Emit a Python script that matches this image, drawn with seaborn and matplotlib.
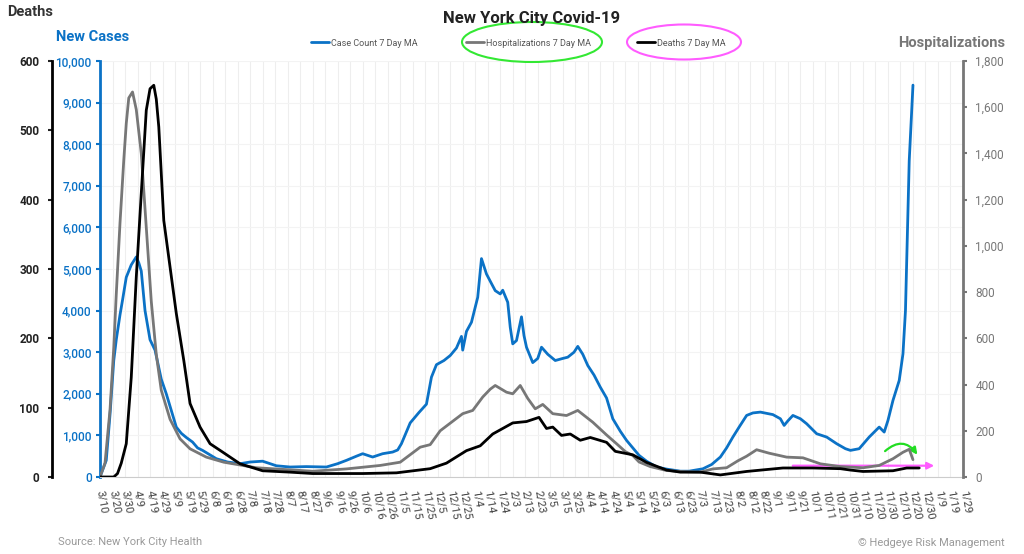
import pandas as pd
import matplotlib.pyplot as plt
import matplotlib.ticker as mticker
from matplotlib.lines import Line2D
from matplotlib.patches import Ellipse
import seaborn as sns

sns.set_style("white")
plt.rcParams["font.family"] = ["Roboto", "DejaVu Sans"]

START = pd.Timestamp("2020-03-10")
END = pd.Timestamp("2022-01-29")

# days since 3/10/2020 -> 7 day moving averages
case_days = [0, 5, 8, 11, 13, 16, 18, 21, 25, 29, 31, 33, 36, 40, 44, 49, 53, 56, 61, 65,
             69, 74, 78, 82, 93, 102, 112, 120, 130, 141, 152, 165, 181, 190, 197, 205, 210,
             218, 226, 234, 238, 241, 248, 255, 261, 265, 269, 275, 280, 285, 289, 290, 293,
             297, 302, 305, 309, 313, 316, 320, 322, 326, 328, 330, 333, 337, 339, 341, 346,
             350, 353, 358, 364, 370, 374, 379, 382, 386, 390, 395, 400, 405, 410, 416, 421,
             426, 431, 437, 445, 453, 464, 471, 482, 489, 496, 501, 506, 511, 517, 522, 528,
             533, 538, 544, 547, 550, 554, 560, 565, 573, 581, 589, 596, 600, 607, 615, 623,
             627, 630, 634, 639, 642, 644, 645, 647, 650]
cases = [0, 400, 1500, 2800, 3300, 3900, 4250, 4800, 5100, 5290, 5150, 4950, 4000, 3300, 3050,
         2350, 2000, 1700, 1200, 1050, 950, 840, 700, 640, 440, 360, 320, 360, 380, 270, 240,
         250, 240, 320, 400, 500, 560, 480, 560, 600, 650, 800, 1300, 1550, 1750, 2400, 2700,
         2800, 2920, 3100, 3380, 3050, 3500, 3720, 4320, 5250, 4880, 4650, 4480, 4400, 4490,
         4200, 3600, 3200, 3280, 3850, 3400, 3120, 2750, 2850, 3120, 2950, 2800, 2850, 2880,
         3000, 3140, 2950, 2680, 2450, 2160, 1900, 1400, 1100, 880, 700, 520, 380, 240, 190,
         140, 140, 197, 300, 480, 700, 960, 1200, 1480, 1540, 1560, 1530, 1500, 1400, 1240,
         1350, 1480, 1400, 1280, 1040, 960, 800, 680, 640, 680, 960, 1200, 1080, 1360, 1840,
         2320, 2960, 4000, 5200, 7600, 9420]

hosp_days = [0, 4, 8, 11, 13, 16, 19, 21, 23, 26, 29, 33, 37, 41, 45, 49, 56, 64, 72, 85, 99,
             125, 152, 170, 197, 224, 240, 256, 264, 272, 281, 290, 298, 306, 312, 316, 325,
             330, 336, 342, 348, 354, 362, 373, 382, 394, 405, 413, 420, 426, 431, 440, 453,
             464, 480, 490, 501, 510, 517, 525, 535, 549, 562, 576, 592, 610, 623, 634, 642,
             647, 650]
hosp = [0, 60, 290, 560, 790, 1100, 1370, 1530, 1640, 1666, 1590, 1400, 1080, 760, 530, 375,
        250, 165, 122, 86, 64, 40, 31, 25, 35, 50, 64, 129, 140, 200, 237, 274, 288, 346, 380,
        396, 367, 360, 396, 340, 295, 314, 274, 266, 288, 237, 182, 144, 110, 93, 65, 45, 28,
        24, 21, 35, 40, 70, 90, 118, 103, 86, 83, 57, 45, 40, 50, 79, 107, 120, 75]

death_days = [0, 11, 14, 17, 21, 25, 29, 33, 37, 40, 43, 45, 47, 51, 56, 61, 67, 72, 80, 88, 98,
              112, 130, 152, 170, 210, 237, 264, 277, 293, 304, 314, 322, 330, 341, 351, 357,
              362, 369, 376, 384, 392, 405, 412, 426, 437, 453, 464, 480, 496, 517, 546, 570,
              592, 600, 610, 634, 645, 655]
deaths = [0, 0, 5, 20, 48, 144, 288, 409, 529, 560, 565, 545, 505, 370, 303, 236, 168, 106, 72,
          48, 36, 19, 9, 7, 5, 5, 6, 12, 20, 38, 45, 62, 70, 78, 80, 86, 70, 72, 60, 62, 53, 57,
          50, 37, 32, 21, 10, 7, 7, 3, 8, 13, 13, 12, 10, 8, 9, 13, 13]

BLUE = "#0b72c6"
GRAY = "#777777"
BLACK = "#000000"


def to_dates(days):
    return START + pd.to_timedelta(days, unit="D")


W, H = 1024, 554
fig = plt.figure(figsize=(W / 100, H / 100), dpi=100)
ax = fig.add_axes([100 / W, 1 - 477 / H, 863 / W, 416 / H])
ax_h = ax.twinx()
ax_d = ax.twinx()

sns.lineplot(x=to_dates(case_days), y=cases, ax=ax, color=BLUE, linewidth=2)
sns.lineplot(x=to_dates(hosp_days), y=hosp, ax=ax_h, color=GRAY, linewidth=2)
sns.lineplot(x=to_dates(death_days), y=deaths, ax=ax_d, color=BLACK, linewidth=2)

# x axis: every 10 days
ticks = pd.date_range(START, END, freq="10D")
ax.set_xlim(START, END)
ax.set_xticks(ticks)
ax.set_xticklabels([f"{t.month}/{t.day}" for t in ticks], rotation=-80, ha="left", va="center",
                   rotation_mode="anchor", fontsize=8, color="#444444")
ax.tick_params(axis="x", length=4, color="#bbbbbb", pad=6)
ax.grid(axis="x", color="#eeeeee", linewidth=0.8)
ax.grid(axis="y", color="#f3f3f3", linewidth=0.8)

# cases axis (inner left)
ax.set_ylim(0, 10000)
ax.set_yticks(range(0, 10001, 1000))
ax.yaxis.set_major_formatter(mticker.StrMethodFormatter("{x:,.0f}"))
ax.tick_params(axis="y", colors=BLUE, labelsize=8.5, length=3, width=1.5, pad=3)
for lbl in ax.get_yticklabels():
    lbl.set_fontweight("medium")
ax.spines["left"].set_color(BLUE)
ax.spines["left"].set_linewidth(2)
ax.spines["bottom"].set_color("#cccccc")
ax.spines["top"].set_visible(False)
ax.spines["right"].set_visible(False)
ax.set_xlabel("")
ax.set_ylabel("")

# hospitalizations axis (right)
ax_h.set_ylim(0, 1800)
ax_h.set_yticks(range(0, 1801, 200))
ax_h.yaxis.set_major_formatter(mticker.StrMethodFormatter("{x:,.0f}"))
ax_h.tick_params(axis="y", colors=GRAY, labelsize=8.5, length=3, width=1.5, pad=6)
ax_h.spines["right"].set_color(GRAY)
ax_h.spines["right"].set_linewidth(2)
for s in ["top", "left", "bottom"]:
    ax_h.spines[s].set_visible(False)
ax_h.set_ylabel("")

# deaths axis (outer left)
ax_d.set_ylim(0, 600)
ax_d.set_yticks(range(0, 601, 100))
ax_d.yaxis.set_ticks_position("left")
ax_d.yaxis.set_label_position("left")
ax_d.spines["left"].set_visible(True)
ax_d.spines["left"].set_position(("outward", 48 * 0.72))
ax_d.spines["left"].set_color(BLACK)
ax_d.spines["left"].set_linewidth(2)
for s in ["top", "right", "bottom"]:
    ax_d.spines[s].set_visible(False)
ax_d.tick_params(axis="y", colors="#222222", labelsize=8.5, length=3, width=1.5, pad=6)
ax_d.set_ylabel("")
for lbl in ax_d.get_yticklabels():
    lbl.set_fontweight("bold")

# axis titles and headline
fig.text(7 / W, 1 - 12 / H, "Deaths", fontsize=10.5, fontweight="bold", color="#333333", va="center")
fig.text(56 / W, 1 - 37 / H, "New Cases", fontsize=10.5, fontweight="bold", color=BLUE, va="center")
fig.text(1005 / W, 1 - 43 / H, "Hospitalizations", fontsize=10.5, fontweight="bold", color=GRAY,
         va="center", ha="right")
fig.text(532 / W, 1 - 19 / H, "New York City Covid-19", fontsize=12, fontweight="bold",
         color="#222222", va="center", ha="center")
fig.text(58 / W, 1 - 542 / H, "Source: New York City Health", fontsize=8, color="#9a9a9a", va="center")
fig.text(1005 / W, 1 - 543 / H, "\u00a9 Hedgeye Risk Management", fontsize=8, color="#9a9a9a",
         va="center", ha="right")

# legend entries
legend_items = [("Case Count 7 Day MA", BLUE, 311), ("Hospitalizations 7 Day MA", GRAY, 466),
                ("Deaths 7 Day MA", BLACK, 637)]
for name, col, xp in legend_items:
    fig.legend(handles=[Line2D([], [], color=col, linewidth=2)], labels=[name], loc="center left",
               bbox_to_anchor=(xp / W, 1 - 43 / H), frameon=False, fontsize=6.5, handlelength=2,
               handletextpad=0.2, borderpad=0, borderaxespad=0, labelcolor="#555555")

# hand drawn highlights
fig.add_artist(Ellipse((532 / W, 1 - 42 / H), 140 / W, 40 / H, transform=fig.transFigure,
                       fill=False, edgecolor="#33e833", linewidth=1.5))
fig.add_artist(Ellipse((684 / W, 1 - 42 / H), 114 / W, 35 / H, transform=fig.transFigure,
                       fill=False, edgecolor="#ff5cff", linewidth=1.5))
ax.annotate("", xy=(937, H - 465.7), xytext=(790, H - 465.7), xycoords="figure pixels",
            textcoords="figure pixels",
            arrowprops=dict(arrowstyle="-|>", color="#ff5cff", lw=1.6, mutation_scale=10))
ax.annotate("", xy=(919, H - 457), xytext=(883, H - 453), xycoords="figure pixels",
            textcoords="figure pixels",
            arrowprops=dict(arrowstyle="-|>", color="#22dd22", lw=1.6, mutation_scale=10,
                            connectionstyle="arc3,rad=-0.6"))

fig.savefig("out.png", dpi=100)
